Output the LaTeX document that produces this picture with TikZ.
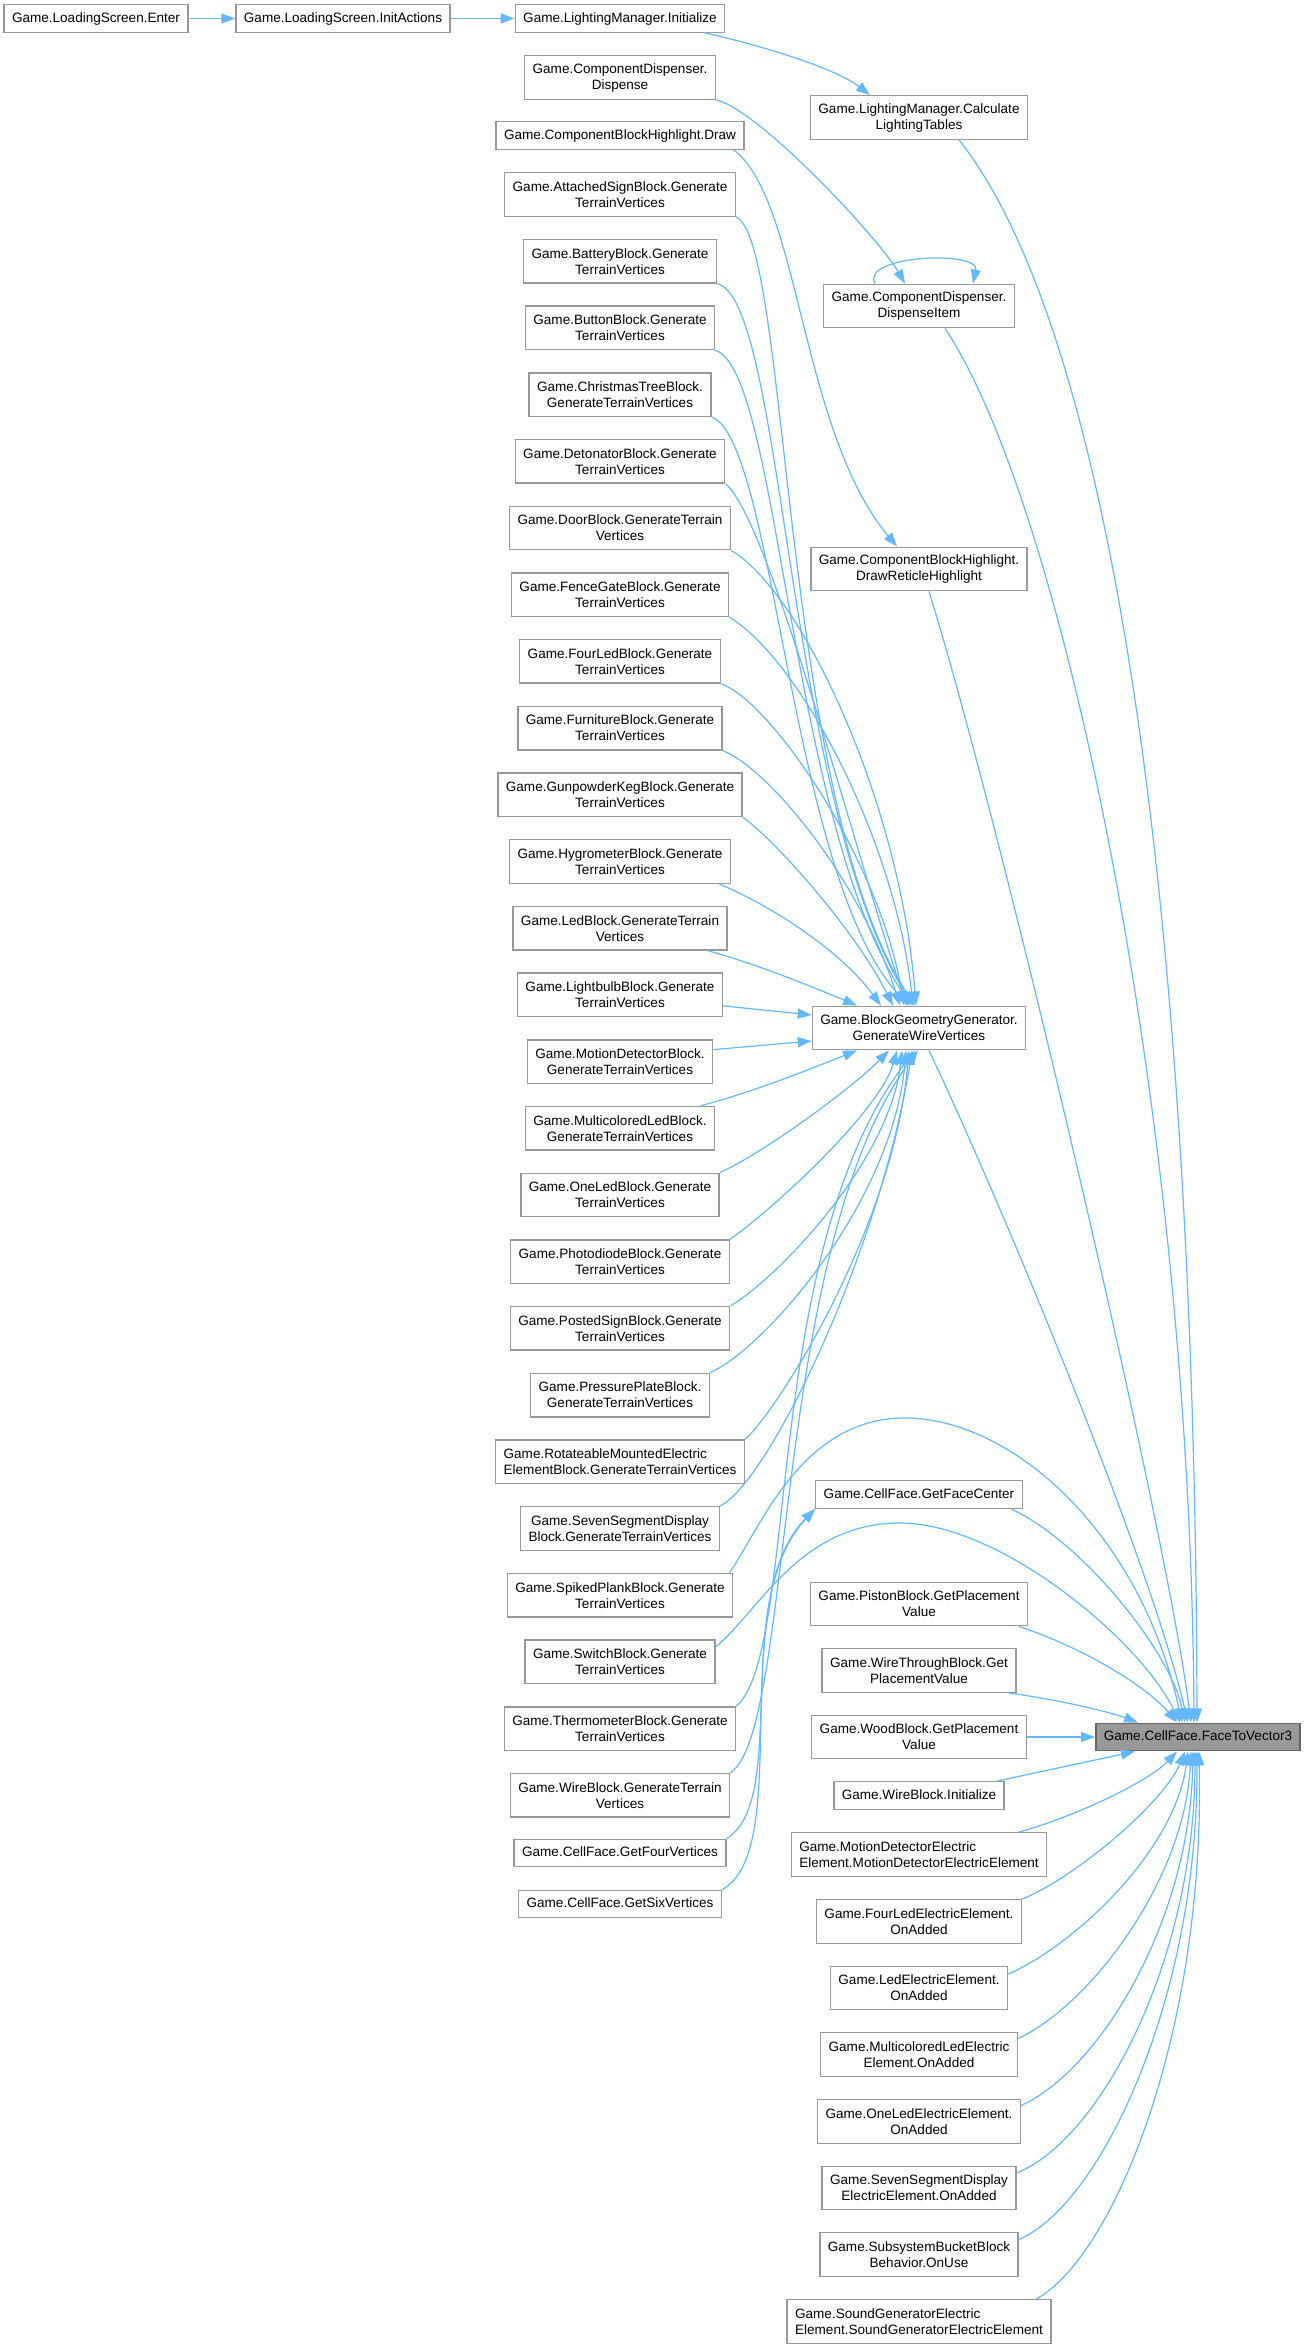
\documentclass[tikz,border=0pt]{standalone}
\usepackage{fontspec}
\setmainfont{Liberation Sans}
\usetikzlibrary{arrows.meta}
\definecolor{edgeblue}{HTML}{63B8FF}
\definecolor{boxgray}{HTML}{999999}
\definecolor{hlfill}{HTML}{999999}
\definecolor{hldraw}{HTML}{666666}
\begin{document}
\begin{tikzpicture}[x=1pt,y=-1pt,
  box/.style={draw=boxgray,line width=1.4pt,fill=white,inner xsep=8pt,inner ysep=0pt,
    font=\fontsize{13.55}{16}\selectfont},
  fn/.style={box,minimum height=27.5pt,text height=10pt,text depth=3pt},
  two/.style={box,align=center,minimum height=43.5pt},
  twol/.style={box,align=left,minimum height=43.5pt},
  hl/.style={fn,fill=hlfill,draw=hldraw},
  edge/.style={draw=edgeblue,line width=1.2pt,-{Triangle[length=14pt,width=10pt]}}]
\useasboundingbox (0,0) rectangle (1305,2348);

% Start of the chain
\node[fn] (enter) at (96,18.5) {Game.LoadingScreen.Enter};
\node[fn] (initact) at (343,18.5) {Game.LoadingScreen.InitActions};

% Callers, left column
\node[fn] (init) at (620,18.5) {Game.LightingManager.Initialize};
\node[two] (disp) at (620,77.5) {Game.ComponentDispenser.\\Dispense};
\node[fn] (cbhdraw) at (620,135.5) {Game.ComponentBlockHighlight.Draw};
\node[two] (attsign) at (620,194.5) {Game.AttachedSignBlock.Generate\\TerrainVertices};
\node[two] (battery) at (620,261.2) {Game.BatteryBlock.Generate\\TerrainVertices};
\node[two] (button) at (620,327.9) {Game.ButtonBlock.Generate\\TerrainVertices};
\node[two] (xmas) at (620,394.6) {Game.ChristmasTreeBlock.\\GenerateTerrainVertices};
\node[two] (deton) at (620,461.3) {Game.DetonatorBlock.Generate\\TerrainVertices};
\node[two] (door) at (620,528) {Game.DoorBlock.GenerateTerrain\\Vertices};
\node[two] (fence) at (620,594.7) {Game.FenceGateBlock.Generate\\TerrainVertices};
\node[two] (fourled) at (620,661.4) {Game.FourLedBlock.Generate\\TerrainVertices};
\node[two] (furn) at (620,728.1) {Game.FurnitureBlock.Generate\\TerrainVertices};
\node[two] (gunp) at (620,794.8) {Game.GunpowderKegBlock.Generate\\TerrainVertices};
\node[two] (hygro) at (620,861.5) {Game.HygrometerBlock.Generate\\TerrainVertices};
\node[two] (led) at (620,928.2) {Game.LedBlock.GenerateTerrain\\Vertices};
\node[two] (bulb) at (620,994.9) {Game.LightbulbBlock.Generate\\TerrainVertices};
\node[two] (motion) at (620,1061.6) {Game.MotionDetectorBlock.\\GenerateTerrainVertices};
\node[two] (multi) at (620,1128.3) {Game.MulticoloredLedBlock.\\GenerateTerrainVertices};
\node[two] (oneled) at (620,1195) {Game.OneLedBlock.Generate\\TerrainVertices};
\node[two] (photo) at (620,1261.7) {Game.PhotodiodeBlock.Generate\\TerrainVertices};
\node[two] (posted) at (620,1328.4) {Game.PostedSignBlock.Generate\\TerrainVertices};
\node[two] (press) at (620,1395.1) {Game.PressurePlateBlock.\\GenerateTerrainVertices};
\node[twol] (rotat) at (620,1461.8) {Game.RotateableMountedElectric\\ElementBlock.GenerateTerrainVertices};
\node[two] (sevseg) at (620,1528.5) {Game.SevenSegmentDisplay\\Block.GenerateTerrainVertices};
\node[two] (spiked) at (620,1595.2) {Game.SpikedPlankBlock.Generate\\TerrainVertices};
\node[two] (switch) at (620,1661.9) {Game.SwitchBlock.Generate\\TerrainVertices};
\node[two] (thermo) at (620,1728.6) {Game.ThermometerBlock.Generate\\TerrainVertices};
\node[two] (wireb) at (620,1795.3) {Game.WireBlock.GenerateTerrain\\Vertices};
\node[fn] (getfour) at (620,1853) {Game.CellFace.GetFourVertices};
\node[fn] (getsix) at (620,1904) {Game.CellFace.GetSixVertices};

% Callers, middle column
\node[two] (calclt) at (919,117.5) {Game.LightingManager.Calculate\\LightingTables};
\node[two] (dispitem) at (919,306) {Game.ComponentDispenser.\\DispenseItem};
\node[two] (drawret) at (919,569) {Game.ComponentBlockHighlight.\\DrawReticleHighlight};
\node[two] (bgg) at (919,1028) {Game.BlockGeometryGenerator.\\GenerateWireVertices};
\node[fn] (getface) at (919,1494.5) {Game.CellFace.GetFaceCenter};
\node[two] (piston) at (919,1604) {Game.PistonBlock.GetPlacement\\Value};
\node[two] (wirethr) at (919,1670.5) {Game.WireThroughBlock.Get\\PlacementValue};
\node[two] (wood) at (919,1737) {Game.WoodBlock.GetPlacement\\Value};
\node[fn] (wireinit) at (919,1795.5) {Game.WireBlock.Initialize};
\node[twol] (motionee) at (919,1854.5) {Game.MotionDetectorElectric\\Element.MotionDetectorElectricElement};
\node[two] (fourledee) at (919,1921.5) {Game.FourLedElectricElement.\\OnAdded};
\node[two] (ledee) at (919,1988) {Game.LedElectricElement.\\OnAdded};
\node[two] (multiee) at (919,2054.5) {Game.MulticoloredLedElectric\\Element.OnAdded};
\node[two] (oneledee) at (919,2121.5) {Game.OneLedElectricElement.\\OnAdded};
\node[two] (sevsegee) at (919,2188) {Game.SevenSegmentDisplay\\ElectricElement.OnAdded};
\node[two] (bucket) at (919,2254.5) {Game.SubsystemBucketBlock\\Behavior.OnUse};
\node[twol] (soundgen) at (919,2321.5) {Game.SoundGeneratorElectric\\Element.SoundGeneratorElectricElement};

% The function itself
\node[hl] (f2v) at (1198,1737) {Game.CellFace.FaceToVector3};

% Chain from the loading screen
\draw[edge] (enter) -- (initact);
\draw[edge] (initact) -- (init);
\draw[edge] ([xshift=85pt]init.south) .. controls (760,45) and (835,68) .. ([xshift=-49pt]calclt.north);
\draw[edge] (disp.south east) .. controls (760,110) and (880,240) .. ([xshift=-14pt]dispitem.north);
\draw[edge] ([xshift=-44pt]dispitem.north) .. controls (860,255) and (980,250) .. ([xshift=54pt]dispitem.north);
\draw[edge] ([xshift=-11pt]cbhdraw.south east) .. controls (800,200) and (800,430) .. ([xshift=-22pt]drawret.north);

% Into GenerateWireVertices, from above
\draw[edge] (attsign.south east) .. controls (790,240) and (780,800) .. ([xshift=-4pt]bgg.north);
\draw[edge] (battery.south east) .. controls (785,300) and (785,800) .. ([xshift=-6pt]bgg.north);
\draw[edge] (button.south east) .. controls (780,370) and (788,820) .. ([xshift=-8pt]bgg.north);
\draw[edge] (xmas.south east) .. controls (775,440) and (790,880) .. ([xshift=-10pt]bgg.north);
\draw[edge] (deton.south east) .. controls (770,520) and (860,870) .. ([xshift=-12pt]bgg.north);
\draw[edge] (door.south east) .. controls (800,590) and (900,800) .. ([xshift=-3pt]bgg.north);
\draw[edge] (fence.south east) .. controls (800,660) and (895,840) .. ([xshift=-6pt]bgg.north);
\draw[edge] (fourled.south east) .. controls (770,700) and (880,860) .. ([xshift=-15pt]bgg.north);
\draw[edge] (furn.south east) .. controls (770,770) and (860,880) .. ([xshift=-19pt]bgg.north);
\draw[edge] (gunp.south east) .. controls (775,840) and (855,930) .. ([xshift=-26pt]bgg.north);
\draw[edge] ([xshift=-12pt]hygro.south east) .. controls (770,905) and (840,950) .. ([xshift=-38pt]bgg.north);
\draw[edge] ([xshift=-20pt]led.south east) .. controls (760,965) and (820,990) .. ([xshift=-62pt]bgg.north);
\draw[edge] ([yshift=-11pt]bulb.east) -- ([yshift=13pt]bgg.west);
\draw[edge] ([yshift=12pt]motion.east) -- ([yshift=-13pt]bgg.west);

% Into GenerateWireVertices, from below
\draw[edge] ([xshift=-15pt]multi.north east) .. controls (760,1090) and (820,1065) .. ([xshift=-62pt]bgg.south);
\draw[edge] (oneled.north east) .. controls (760,1155) and (850,1090) .. ([xshift=-30pt]bgg.south);
\draw[edge] (photo.north east) .. controls (776,1207) and (880,1110) .. ([xshift=-22pt]bgg.south);
\draw[edge] (posted.north east) .. controls (779,1277) and (890,1160) .. ([xshift=-17pt]bgg.south);
\draw[edge] (press.north east) .. controls (766,1348) and (893,1200) .. ([xshift=-13pt]bgg.south);
\draw[edge] (rotat.north east) .. controls (779,1409) and (894,1225) .. ([xshift=-10pt]bgg.south);
\draw[edge] (sevseg.north east) .. controls (770,1480) and (880,1250) .. ([xshift=-7pt]bgg.south);
\draw[edge] (thermo.north east) .. controls (800,1650) and (760,1250) .. ([xshift=-4pt]bgg.south);
\draw[edge] (wireb.north east) .. controls (795,1730) and (770,1250) .. ([xshift=-1pt]bgg.south);

% Into GetFaceCenter
\draw[edge] (getfour.north east) .. controls (790,1800) and (730,1600) .. (getface.south west);
\draw[edge] (getsix.north east) .. controls (795,1850) and (725,1600) .. (getface.south west);

% Into FaceToVector3, from above
\draw[edge] ([xshift=40pt]calclt.south) .. controls (1110,330) and (1195,900) .. ([xshift=-1pt]f2v.north);
\draw[edge] ([xshift=26pt]dispitem.south) .. controls (1060,500) and (1190,1100) .. ([xshift=-4pt]f2v.north);
\draw[edge] ([xshift=10pt]drawret.south) .. controls (1000,820) and (1165,1520) .. ([xshift=-7pt]f2v.north);
\draw[edge] ([xshift=10pt]bgg.south) .. controls (1000,1200) and (1150,1560) .. ([xshift=-10pt]f2v.north);
\draw[edge] ([xshift=92pt]getface.south) .. controls (1080,1540) and (1170,1650) .. ([xshift=-13pt]f2v.north);
\draw[edge] ([xshift=-4pt]spiked.north east) .. controls (760,1530) and (800,1418) .. (905,1418)
  .. controls (1010,1418) and (1140,1530) .. ([xshift=-16pt]f2v.north);
\draw[edge] ([yshift=15pt]switch.east) .. controls (760,1610) and (800,1523) .. (900,1523)
  .. controls (1000,1523) and (1140,1640) .. ([xshift=-18pt]f2v.north);
\draw[edge] ([xshift=100pt]piston.south) .. controls (1090,1650) and (1150,1690) .. ([xshift=-21pt]f2v.north);
\draw[edge] ([xshift=90pt]wirethr.south) .. controls (1060,1700) and (1110,1712) .. ([xshift=-60pt]f2v.north);
\draw[edge] (wood.east) -- (f2v.west);

% Into FaceToVector3, from below
\draw[edge] ([xshift=78pt]wireinit.north) -- ([xshift=-63pt]f2v.south);
\draw[edge] ([xshift=100pt]motionee.north) .. controls (1080,1815) and (1150,1780) .. ([xshift=-21pt]f2v.south);
\draw[edge] (fourledee.north east) .. controls (1080,1875) and (1165,1800) .. ([xshift=-13pt]f2v.south);
\draw[edge] ([yshift=14pt]ledee.east) .. controls (1075,1945) and (1175,1850) .. ([xshift=-10pt]f2v.south);
\draw[edge] ([yshift=16pt]multiee.east) .. controls (1090,2005) and (1185,1880) .. ([xshift=-7pt]f2v.south);
\draw[edge] ([yshift=16pt]oneledee.east) .. controls (1100,2070) and (1190,1920) .. ([xshift=-5pt]f2v.south);
\draw[edge] ([yshift=15pt]sevsegee.east) .. controls (1100,2140) and (1195,1960) .. ([xshift=-3pt]f2v.south);
\draw[edge] ([yshift=15pt]bucket.east) .. controls (1100,2205) and (1198,2000) .. ([xshift=-1pt]f2v.south);
\draw[edge] ([xshift=117pt]soundgen.north) .. controls (1110,2260) and (1205,2040) .. ([xshift=1pt]f2v.south);
\end{tikzpicture}
\end{document}
